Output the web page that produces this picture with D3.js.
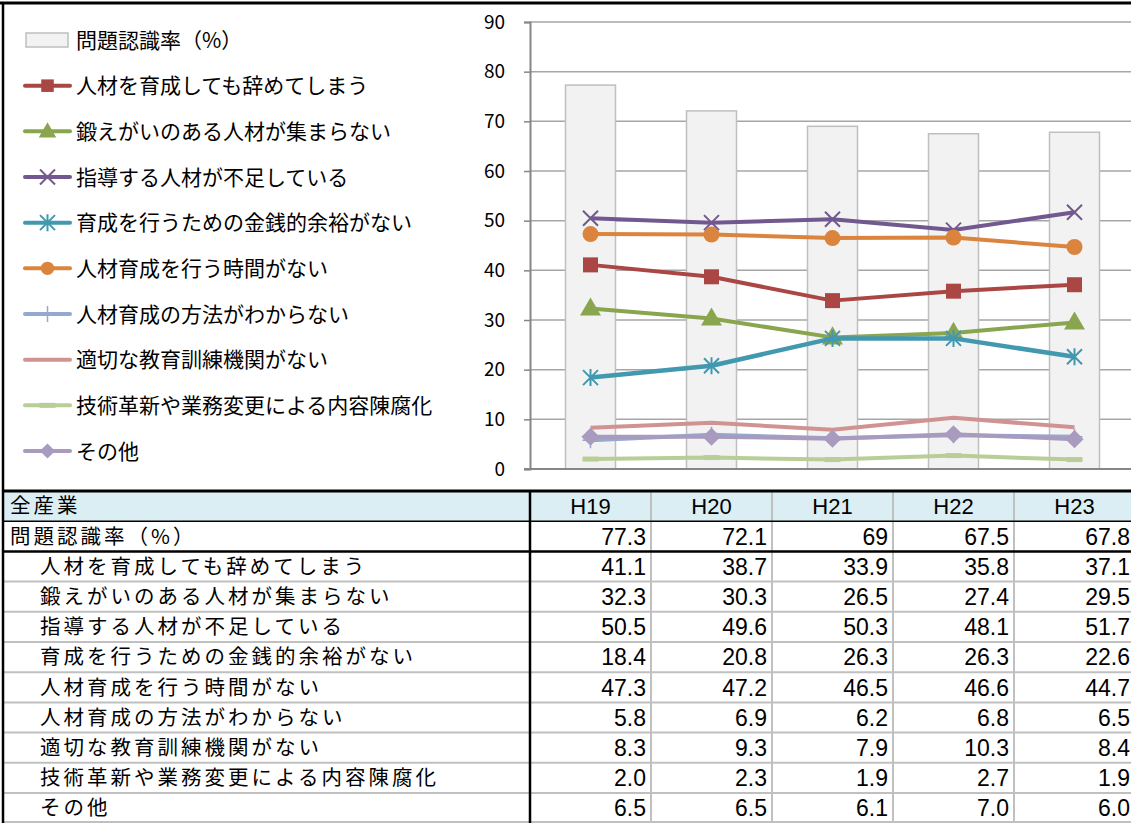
<!DOCTYPE html>
<html>
<head>
<meta charset="utf-8">
<script src="https://cdn.jsdelivr.net/npm/d3@7"></script>
<style>
  body { margin: 0; background: #fff; }
  svg { display: block; }
</style>
</head>
<body>
<svg id="chart" width="1131" height="823"></svg>
<script>
// data
const years = ["H19", "H20", "H21", "H22", "H23"];
const tableTitle = "全産業";
const barName = "問題認識率（%）";
const barValues = [77.3, 72.1, 69, 67.5, 67.8];

const seriesNames = [
  "人材を育成しても辞めてしまう",
  "鍛えがいのある人材が集まらない",
  "指導する人材が不足している",
  "育成を行うための金銭的余裕がない",
  "人材育成を行う時間がない",
  "人材育成の方法がわからない",
  "適切な教育訓練機関がない",
  "技術革新や業務変更による内容陳腐化",
  "その他"
];
const quitValues     = [41.1, 38.7, 33.9, 35.8, 37.1];
const talentValues   = [32.3, 30.3, 26.5, 27.4, 29.5];
const mentorValues   = [50.5, 49.6, 50.3, 48.1, 51.7];
const moneyValues    = [18.4, 20.8, 26.3, 26.3, 22.6];
const timeValues     = [47.3, 47.2, 46.5, 46.6, 44.7];
const methodValues   = [5.8, 6.9, 6.2, 6.8, 6.5];
const schoolValues   = [8.3, 9.3, 7.9, 10.3, 8.4];
const obsoleteValues = [2.0, 2.3, 1.9, 2.7, 1.9];
const otherValues    = [6.5, 6.5, 6.1, 7.0, 6.0];
const seriesValues = [quitValues, talentValues, mentorValues, moneyValues, timeValues,
                      methodValues, schoolValues, obsoleteValues, otherValues];

const seriesColors  = ["#AA4643", "#89A54E", "#71588F", "#4198AF", "#DB843D",
                       "#93A9CF", "#D19392", "#B9CD96", "#A99BBD"];
const seriesMarkers = ["square", "triangle", "x", "asterisk", "circle",
                       "plus", "none", "dash", "diamond"];
const yTicks = [0, 10, 20, 30, 40, 50, 60, 70, 80, 90];

const W = 1131, H = 823;
const jp = "'Noto Sans CJK JP', 'Noto Sans', sans-serif";
const num = "'Liberation Sans', Arial, sans-serif";

const svg = d3.select("#chart");

// plot scales
const x = d3.scaleBand().domain(years).range([530, 1135]);
const y = d3.scaleLinear().domain([0, 90]).range([469, 22]);

// gridlines
svg.append("g").selectAll("line")
  .data(yTicks.filter(t => t > 0))
  .enter().append("line")
  .attr("x1", 530).attr("x2", W)
  .attr("y1", d => y(d)).attr("y2", d => y(d))
  .attr("stroke", "#A6A6A6").attr("stroke-width", 1.5);

// bars (cover gridlines)
const barW = 50;
svg.append("g").selectAll("rect")
  .data(barValues)
  .enter().append("rect")
  .attr("x", (d, i) => x(years[i]) + x.bandwidth() / 2 - barW / 2)
  .attr("y", d => y(d))
  .attr("width", barW)
  .attr("height", d => y(0) - y(d))
  .attr("fill", "#F2F2F2")
  .attr("stroke", "#BFBFBF")
  .attr("stroke-width", 1.5);

// y axis
const yAxis = svg.append("g")
  .attr("transform", "translate(530,0)")
  .call(d3.axisLeft(y).tickValues(yTicks).tickSize(6).tickPadding(19));
yAxis.select(".domain").attr("stroke", "#868686").attr("stroke-width", 2);
yAxis.selectAll(".tick line").attr("stroke", "#868686").attr("stroke-width", 1.5);
yAxis.selectAll(".tick text")
  .attr("font-family", jp).attr("font-size", 19).attr("fill", "#000");
// baseline
svg.append("line")
  .attr("x1", 524).attr("x2", W)
  .attr("y1", y(0)).attr("y2", y(0))
  .attr("stroke", "#868686").attr("stroke-width", 2);

// marker drawing
function drawMarker(g, type, color, size) {
  const s = size || 1;
  if (type === "square") {
    g.append("path").attr("d", d3.symbol(d3.symbolSquare, 225 * s)).attr("fill", color);
  } else if (type === "triangle") {
    g.append("path").attr("d", d3.symbol(d3.symbolTriangle, 190 * s))
      .attr("transform", "translate(0,1)").attr("fill", color);
  } else if (type === "circle") {
    g.append("circle").attr("r", 8 * Math.sqrt(s)).attr("fill", color);
  } else if (type === "diamond") {
    g.append("path").attr("d", d3.symbol(d3.symbolSquare, 165 * s))
      .attr("transform", "rotate(45)").attr("fill", color);
  } else if (type === "x" || type === "asterisk") {
    const r = 7.5;
    g.append("path")
      .attr("d", `M${-r},${-r}L${r},${r}M${-r},${r}L${r},${-r}` + (type === "asterisk" ? `M0,${-r - 1}L0,${r + 1}` : ""))
      .attr("stroke", color).attr("stroke-width", 2).attr("fill", "none");
  } else if (type === "plus") {
    g.append("path").attr("d", "M-8,0L8,0M0,-8L0,8")
      .attr("stroke", color).attr("stroke-width", 1.5).attr("fill", "none");
  } else if (type === "dash") {
    g.append("path").attr("d", "M-8,0L8,0")
      .attr("stroke", color).attr("stroke-width", 5).attr("fill", "none");
  }
}

// lines
const cx = i => x(years[i]) + x.bandwidth() / 2;
const line = d3.line().x((d, i) => cx(i)).y(d => y(d));
seriesValues.forEach((vals, k) => {
  const g = svg.append("g");
  g.append("path")
    .datum(vals)
    .attr("d", line)
    .attr("fill", "none")
    .attr("stroke", seriesColors[k])
    .attr("stroke-width", k === 3 ? 4.5 : 4)
    .attr("stroke-linejoin", "round");
  vals.forEach((v, i) => {
    const m = g.append("g").attr("transform", `translate(${cx(i)},${y(v)})`);
    drawMarker(m, seriesMarkers[k], seriesColors[k]);
  });
});

// legend
const legY = d3.scaleLinear().domain([0, 9]).range([40, 451]);
const legend = svg.append("g");
const lb = legend.append("g").attr("transform", `translate(0,${legY(0)})`);
lb.append("rect").attr("x", 26).attr("y", -7).attr("width", 42).attr("height", 14)
  .attr("fill", "#F2F2F2").attr("stroke", "#BFBFBF").attr("stroke-width", 1.5);
lb.append("text").attr("x", 76).attr("dy", "0.36em")
  .attr("font-family", jp).attr("font-size", 21).text(barName);

seriesNames.forEach((name, k) => {
  const li = legend.append("g").attr("transform", `translate(0,${legY(k + 1)})`);
  li.append("line").attr("x1", 25).attr("x2", 70)
    .attr("stroke", seriesColors[k]).attr("stroke-width", 4).attr("stroke-linecap", "round");
  const m = li.append("g").attr("transform", "translate(47.5,0)");
  drawMarker(m, seriesMarkers[k], seriesColors[k], 0.7);
  li.append("text").attr("x", 76).attr("dy", "0.36em")
    .attr("font-family", jp).attr("font-size", 21).text(name);
});

// data table
const rowH = 30.2, tTop = 491;
const rowY = i => tTop + i * rowH;
const table = svg.append("g");
table.append("rect").attr("x", 3).attr("y", tTop).attr("width", W - 3).attr("height", rowH)
  .attr("fill", "#DAEEF3");

const rows = [
  { label: barName, values: barValues.map(v => String(v)), indent: false }
].concat(seriesNames.map((n, k) => ({
  label: n, values: seriesValues[k].map(d3.format(".1f")), indent: true
})));

// gray inner lines
for (let i = 3; i <= 10; i++) {
  table.append("line").attr("x1", 3).attr("x2", W)
    .attr("y1", rowY(i)).attr("y2", rowY(i))
    .attr("stroke", "#C0C0C0").attr("stroke-width", 2);
}
years.forEach((yr, j) => {
  if (j === 0) return;
  table.append("line").attr("x1", x(yr)).attr("x2", x(yr))
    .attr("y1", tTop).attr("y2", H)
    .attr("stroke", "#C0C0C0").attr("stroke-width", 2);
});
table.append("line").attr("x1", 3).attr("x2", W).attr("y1", H - 1).attr("y2", H - 1)
  .attr("stroke", "#C0C0C0").attr("stroke-width", 2);
// black lines
table.append("line").attr("x1", 3).attr("x2", W).attr("y1", rowY(0)).attr("y2", rowY(0))
  .attr("stroke", "#000").attr("stroke-width", 3);
table.append("line").attr("x1", 3).attr("x2", W).attr("y1", rowY(1)).attr("y2", rowY(1))
  .attr("stroke", "#000").attr("stroke-width", 1.5);
table.append("line").attr("x1", 3).attr("x2", W).attr("y1", rowY(2)).attr("y2", rowY(2))
  .attr("stroke", "#000").attr("stroke-width", 2.5);
table.append("line").attr("x1", 530).attr("x2", 530).attr("y1", tTop).attr("y2", H)
  .attr("stroke", "#000").attr("stroke-width", 2.5);

// header texts
const labelSize = 20.5, labelSpacing = 3;
table.append("text").attr("x", 10).attr("y", rowY(0) + rowH / 2).attr("dy", "0.36em")
  .attr("font-family", jp).attr("font-size", labelSize)
  .attr("letter-spacing", labelSpacing).text(tableTitle);
years.forEach(yr => {
  table.append("text").attr("x", x(yr) + x.bandwidth() / 2).attr("y", rowY(0) + rowH / 2)
    .attr("dy", "0.36em").attr("text-anchor", "middle")
    .attr("font-family", num).attr("font-size", 22).text(yr);
});
rows.forEach((r, i) => {
  const yy = rowY(i + 1) + rowH / 2;
  table.append("text").attr("x", r.indent ? 40 : 10).attr("y", yy).attr("dy", "0.36em")
    .attr("font-family", jp).attr("font-size", labelSize)
    .attr("letter-spacing", labelSpacing).text(r.label);
  r.values.forEach((v, j) => {
    table.append("text").attr("x", x(years[j]) + x.bandwidth() - 5).attr("y", yy)
      .attr("dy", "0.36em").attr("text-anchor", "end")
      .attr("font-family", num).attr("font-size", 23).text(v);
  });
});

// outer frame
svg.append("line").attr("x1", 0).attr("x2", W).attr("y1", 3).attr("y2", 3)
  .attr("stroke", "#000").attr("stroke-width", 3);
svg.append("line").attr("x1", 3).attr("x2", 3).attr("y1", 2).attr("y2", H)
  .attr("stroke", "#000").attr("stroke-width", 2.5);
</script>
</body>
</html>
